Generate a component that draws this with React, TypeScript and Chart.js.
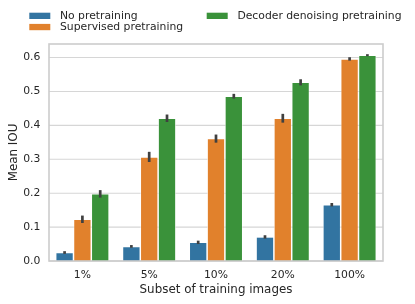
import React, { useEffect, useRef } from "react";
import { Chart, registerables } from "chart.js";

Chart.register(...registerables);

const categories = ["1%", "5%", "10%", "20%", "100%"];
const seriesNames = ["No pretraining", "Supervised pretraining", "Decoder denoising pretraining"];
const noPretraining = [0.025, 0.043, 0.055, 0.071, 0.166];
const supervised = [0.123, 0.307, 0.361, 0.421, 0.596];
const decoder = [0.198, 0.421, 0.486, 0.527, 0.607];
const noPretrainingErr = [0.004, 0.004, 0.005, 0.005, 0.005];
const supervisedErr = [0.011, 0.015, 0.012, 0.013, 0.005];
const decoderErr = [0.011, 0.011, 0.007, 0.009, 0.003];
const yTicks = [0.0, 0.1, 0.2, 0.3, 0.4, 0.5, 0.6];
const colors = ["#3274a1", "#e1812c", "#3a923a"];
const xTitle = "Subset of training images";
const yTitle = "Mean IOU";

const FONT = "'DejaVu Sans', sans-serif";
const TEXT = "#262626";
const TICK_SIZE = 10.8;
const LABEL_SIZE = 11.9;
const PLOT = { left: 49, top: 44, right: 383, bottom: 261 };

export default function App() {
  const ref = useRef<HTMLCanvasElement>(null);
  useEffect(() => {
    const errs = [noPretrainingErr, supervisedErr, decoderErr];
    const plugin = {
      id: "extras",
      beforeDatasetsDraw(chart: any) {
        const { ctx, chartArea } = chart;
        const ys = chart.scales.y;
        ctx.save();
        ctx.strokeStyle = "#d6d6d6";
        ctx.lineWidth = 1.1;
        yTicks.forEach((v) => {
          const y = ys.getPixelForValue(v);
          ctx.beginPath();
          ctx.moveTo(chartArea.left, y);
          ctx.lineTo(chartArea.right, y);
          ctx.stroke();
        });
        ctx.restore();
      },
      afterDatasetsDraw(chart: any) {
        const { ctx, chartArea } = chart;
        const ys = chart.scales.y;
        ctx.save();
        // error bars
        ctx.strokeStyle = "#404040";
        ctx.lineWidth = 2.7;
        chart.data.datasets.forEach((ds: any, di: number) => {
          const meta = chart.getDatasetMeta(di);
          meta.data.forEach((el: any, i: number) => {
            const v = ds.data[i];
            const e = errs[di][i];
            ctx.beginPath();
            ctx.moveTo(el.x, ys.getPixelForValue(v - e));
            ctx.lineTo(el.x, ys.getPixelForValue(v + e));
            ctx.stroke();
          });
        });
        // frame
        ctx.strokeStyle = "#cccccc";
        ctx.lineWidth = 1.6;
        ctx.strokeRect(chartArea.left, chartArea.top, chartArea.right - chartArea.left, chartArea.bottom - chartArea.top);
        // axis titles
        ctx.fillStyle = TEXT;
        ctx.font = `${LABEL_SIZE}px ${FONT}`;
        ctx.textAlign = "center";
        ctx.textBaseline = "alphabetic";
        ctx.fillText(xTitle, (chartArea.left + chartArea.right) / 2, 292.5);
        ctx.save();
        ctx.translate(16.5, (chartArea.top + chartArea.bottom) / 2);
        ctx.rotate(-Math.PI / 2);
        ctx.fillText(yTitle, 0, 0);
        ctx.restore();
        // legend
        ctx.font = `${TICK_SIZE}px ${FONT}`;
        ctx.textAlign = "left";
        ctx.textBaseline = "middle";
        const pos = [
          [29.3, 15.8],
          [29.3, 27],
          [206.7, 15.8],
        ];
        seriesNames.forEach((n, i) => {
          const [x, y] = pos[i];
          ctx.fillStyle = colors[i];
          ctx.fillRect(x, y - 3.1, 21, 6.3);
          ctx.fillStyle = TEXT;
          ctx.fillText(n, x + 30.7, y + 0.5);
        });
        ctx.restore();
      },
    };
    const chart = new Chart(ref.current!, {
      type: "bar",
      data: {
        labels: categories,
        datasets: [noPretraining, supervised, decoder].map((d, i) => ({
          label: seriesNames[i],
          data: d,
          backgroundColor: colors[i],
          borderColor: "rgba(255,255,255,0.8)",
          borderWidth: 0.75,
          categoryPercentage: 0.8,
          barPercentage: 1,
        })),
      },
      options: {
        animation: false,
        responsive: false,
        maintainAspectRatio: false,
        layout: { padding: { top: PLOT.top, right: 415 - PLOT.right, left: 0, bottom: 0 } },
        plugins: { legend: { display: false }, tooltip: { enabled: false } },
        scales: {
          x: {
            grid: { display: false, drawTicks: false },
            border: { display: false },
            ticks: { color: TEXT, font: { family: FONT, size: TICK_SIZE }, padding: 8 },
            afterFit(scale: any) {
              scale.height = 304 - PLOT.bottom;
            },
          },
          y: {
            min: 0,
            max: 0.64,
            grid: { display: false, drawTicks: false },
            border: { display: false },
            afterBuildTicks(scale: any) {
              scale.ticks = yTicks.map((v) => ({ value: v }));
            },
            ticks: {
              color: TEXT,
              font: { family: FONT, size: TICK_SIZE },
              padding: 8.7,
              callback: (v: any) => Number(v).toFixed(1),
            },
            afterFit(scale: any) {
              scale.width = PLOT.left;
            },
          },
        },
      },
      plugins: [plugin],
    });
    return () => chart.destroy();
  }, []);
  return (
    <div style={{ position: "absolute", left: 0, top: 0, width: 415, height: 304, background: "#fff" }}>
      <canvas ref={ref} width={415} height={304} style={{ width: 415, height: 304 }} />
    </div>
  );
}
